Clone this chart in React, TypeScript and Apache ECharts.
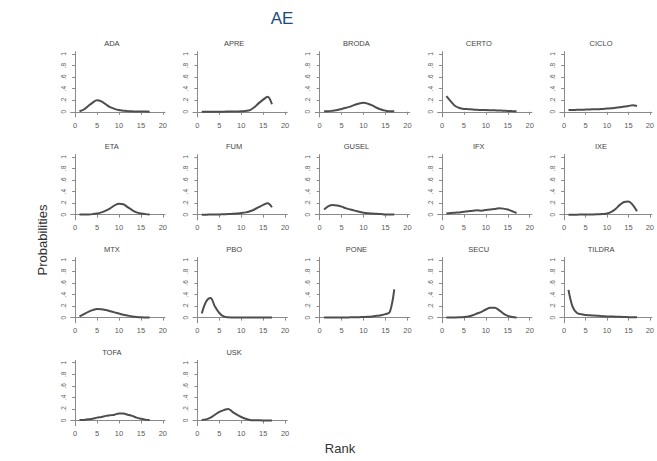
import React, { useEffect, useRef } from "react";
import * as echarts from "echarts";

// Rank-probability curves for each treatment (ranks 1..17)
const ranks = [1, 2, 3, 4, 5, 6, 7, 8, 9, 10, 11, 12, 13, 14, 15, 16, 17];

const ADA = [0.01, 0.04, 0.1, 0.16, 0.2, 0.18, 0.13, 0.08, 0.05, 0.03, 0.02, 0.01, 0.008, 0.005, 0.005, 0.004, 0.003];
const APRE = [0.002, 0.002, 0.002, 0.002, 0.003, 0.003, 0.004, 0.005, 0.006, 0.008, 0.015, 0.03, 0.08, 0.15, 0.21, 0.26, 0.13];
const BRODA = [0.01, 0.01, 0.02, 0.03, 0.05, 0.07, 0.09, 0.12, 0.145, 0.155, 0.14, 0.11, 0.07, 0.04, 0.02, 0.01, 0.01];
const CERTO = [0.27, 0.18, 0.1, 0.065, 0.05, 0.045, 0.04, 0.035, 0.03, 0.03, 0.028, 0.025, 0.022, 0.02, 0.015, 0.012, 0.01];
const CICLO = [0.03, 0.03, 0.035, 0.035, 0.04, 0.04, 0.045, 0.045, 0.05, 0.055, 0.06, 0.07, 0.08, 0.09, 0.1, 0.115, 0.1];
const ETA = [0.002, 0.003, 0.005, 0.01, 0.02, 0.04, 0.07, 0.11, 0.16, 0.19, 0.18, 0.13, 0.08, 0.04, 0.02, 0.01, 0.005];
const FUM = [0.001, 0.001, 0.002, 0.003, 0.005, 0.008, 0.01, 0.015, 0.02, 0.03, 0.04, 0.06, 0.09, 0.13, 0.17, 0.2, 0.13];
const GUSEL = [0.09, 0.15, 0.17, 0.16, 0.14, 0.11, 0.09, 0.07, 0.05, 0.035, 0.025, 0.02, 0.015, 0.01, 0.005, 0.005, 0.005];
const IFX = [0.02, 0.03, 0.035, 0.04, 0.05, 0.06, 0.07, 0.075, 0.07, 0.08, 0.09, 0.1, 0.11, 0.105, 0.09, 0.06, 0.03];
const IXE = [0.001, 0.001, 0.001, 0.002, 0.002, 0.003, 0.005, 0.008, 0.012, 0.02, 0.05, 0.1, 0.17, 0.22, 0.23, 0.17, 0.06];
const MTX = [0.02, 0.06, 0.1, 0.13, 0.15, 0.145, 0.13, 0.11, 0.09, 0.07, 0.05, 0.035, 0.02, 0.01, 0.005, 0.003, 0.002];
const PBO = [0.07, 0.28, 0.34, 0.19, 0.08, 0.02, 0.005, 0.002, 0.001, 0.001, 0.001, 0.001, 0.001, 0.001, 0.001, 0.001, 0.001];
const PONE = [0.001, 0.001, 0.001, 0.002, 0.002, 0.003, 0.004, 0.005, 0.007, 0.01, 0.013, 0.02, 0.03, 0.04, 0.06, 0.1, 0.49];
const SECU = [0.001, 0.001, 0.002, 0.005, 0.01, 0.02, 0.04, 0.07, 0.1, 0.14, 0.17, 0.17, 0.13, 0.07, 0.03, 0.01, 0.003];
const TILDRA = [0.48, 0.18, 0.08, 0.06, 0.045, 0.04, 0.035, 0.03, 0.025, 0.02, 0.02, 0.015, 0.015, 0.01, 0.008, 0.006, 0.005];
const TOFA = [0.01, 0.01, 0.02, 0.03, 0.05, 0.06, 0.08, 0.09, 0.1, 0.12, 0.12, 0.1, 0.08, 0.05, 0.03, 0.015, 0.01];
const USK = [0.01, 0.02, 0.05, 0.1, 0.15, 0.18, 0.2, 0.15, 0.1, 0.06, 0.03, 0.01, 0.005, 0.003, 0.002, 0.002, 0.002];

const treatments = ["ADA", "APRE", "BRODA", "CERTO", "CICLO", "ETA", "FUM", "GUSEL", "IFX", "IXE", "MTX", "PBO", "PONE", "SECU", "TILDRA", "TOFA", "USK"];
const probabilities = [ADA, APRE, BRODA, CERTO, CICLO, ETA, FUM, GUSEL, IFX, IXE, MTX, PBO, PONE, SECU, TILDRA, TOFA, USK];

const xTicks = [0, 5, 10, 15, 20];
const yTicks = [0, 0.2, 0.4, 0.6, 0.8, 1];

const COLS = 5;
const PANEL_LEFT = 70.7;
const PANEL_TOP = 51.7;
const COL_STEP = 122.3;
const ROW_STEP = 102.9;
const PANEL_W = 94.3;
const PANEL_H = 65.3;

const AXIS_COLOR = "#8a8a8a";
const LABEL_COLOR = "#5a5a5a";
const FONT = "Liberation Sans, Arial, sans-serif";

function yLabel(v: number): string {
  if (v === 0) return "0";
  if (v === 1) return "1";
  return "." + Math.round(v * 10);
}

export default function App() {
  const ref = useRef<HTMLDivElement>(null);

  useEffect(() => {
    if (!ref.current) return;
    const chart = echarts.init(ref.current, undefined, { renderer: "svg" });

    const grids: any[] = [];
    const xAxes: any[] = [];
    const yAxes: any[] = [];
    const series: any[] = [];
    const graphics: any[] = [];

    treatments.forEach((name, i) => {
      const col = i % COLS;
      const row = Math.floor(i / COLS);
      const left = PANEL_LEFT + col * COL_STEP;
      const top = PANEL_TOP + row * ROW_STEP;

      grids.push({ left, top, width: PANEL_W, height: PANEL_H, containLabel: false });

      xAxes.push({
        type: "value",
        gridIndex: i,
        min: -1,
        max: 20.5,
        splitLine: { show: false },
        axisLine: { show: true, lineStyle: { color: AXIS_COLOR, width: 1 } },
        axisTick: { show: true, length: 3, customValues: xTicks, lineStyle: { color: AXIS_COLOR } },
        axisLabel: {
          show: true,
          customValues: xTicks,
          fontSize: 7.5,
          color: LABEL_COLOR,
          fontFamily: FONT,
          margin: 4,
        },
      });

      yAxes.push({
        type: "value",
        gridIndex: i,
        min: -0.09,
        max: 1.04,
        splitLine: { show: false },
        axisLine: { show: true, lineStyle: { color: AXIS_COLOR, width: 1 } },
        axisTick: { show: true, length: 3, customValues: yTicks, lineStyle: { color: AXIS_COLOR } },
        axisLabel: {
          show: true,
          customValues: yTicks,
          rotate: 90,
          fontSize: 6.5,
          color: LABEL_COLOR,
          fontFamily: FONT,
          margin: 4,
          formatter: (v: number) => yLabel(v),
        },
      });

      series.push({
        type: "line",
        name,
        xAxisIndex: i,
        yAxisIndex: i,
        data: ranks.map((r, k) => [r, probabilities[i][k]]),
        showSymbol: false,
        smooth: 0.35,
        lineStyle: { color: "#4d4d4d", width: 2 },
        silent: true,
      });

      graphics.push({
        type: "text",
        x: left + PANEL_W / 2 - 6,
        y: top - 8,
        style: {
          text: name,
          fill: "#444",
          font: `7.5px ${FONT}`,
          textAlign: "center",
          textVerticalAlign: "middle",
        },
      });
    });

    graphics.push(
      {
        type: "text",
        x: 282,
        y: 18,
        style: {
          text: "AE",
          fill: "#1f4a78",
          font: `17px ${FONT}`,
          textAlign: "center",
          textVerticalAlign: "middle",
        },
      },
      {
        type: "text",
        x: 42,
        y: 240,
        rotation: Math.PI / 2,
        style: {
          text: "Probabilities",
          fill: "#333",
          font: `13px ${FONT}`,
          textAlign: "center",
          textVerticalAlign: "middle",
        },
      },
      {
        type: "text",
        x: 340,
        y: 448,
        style: {
          text: "Rank",
          fill: "#333",
          font: `13px ${FONT}`,
          textAlign: "center",
          textVerticalAlign: "middle",
        },
      }
    );

    chart.setOption({
      animation: false,
      backgroundColor: "#ffffff",
      grid: grids,
      xAxis: xAxes,
      yAxis: yAxes,
      series,
      graphic: graphics,
    });

    return () => chart.dispose();
  }, []);

  return (
    <div
      ref={ref}
      style={{ position: "fixed", left: 0, top: 0, width: 657, height: 461, background: "#fff" }}
    />
  );
}
